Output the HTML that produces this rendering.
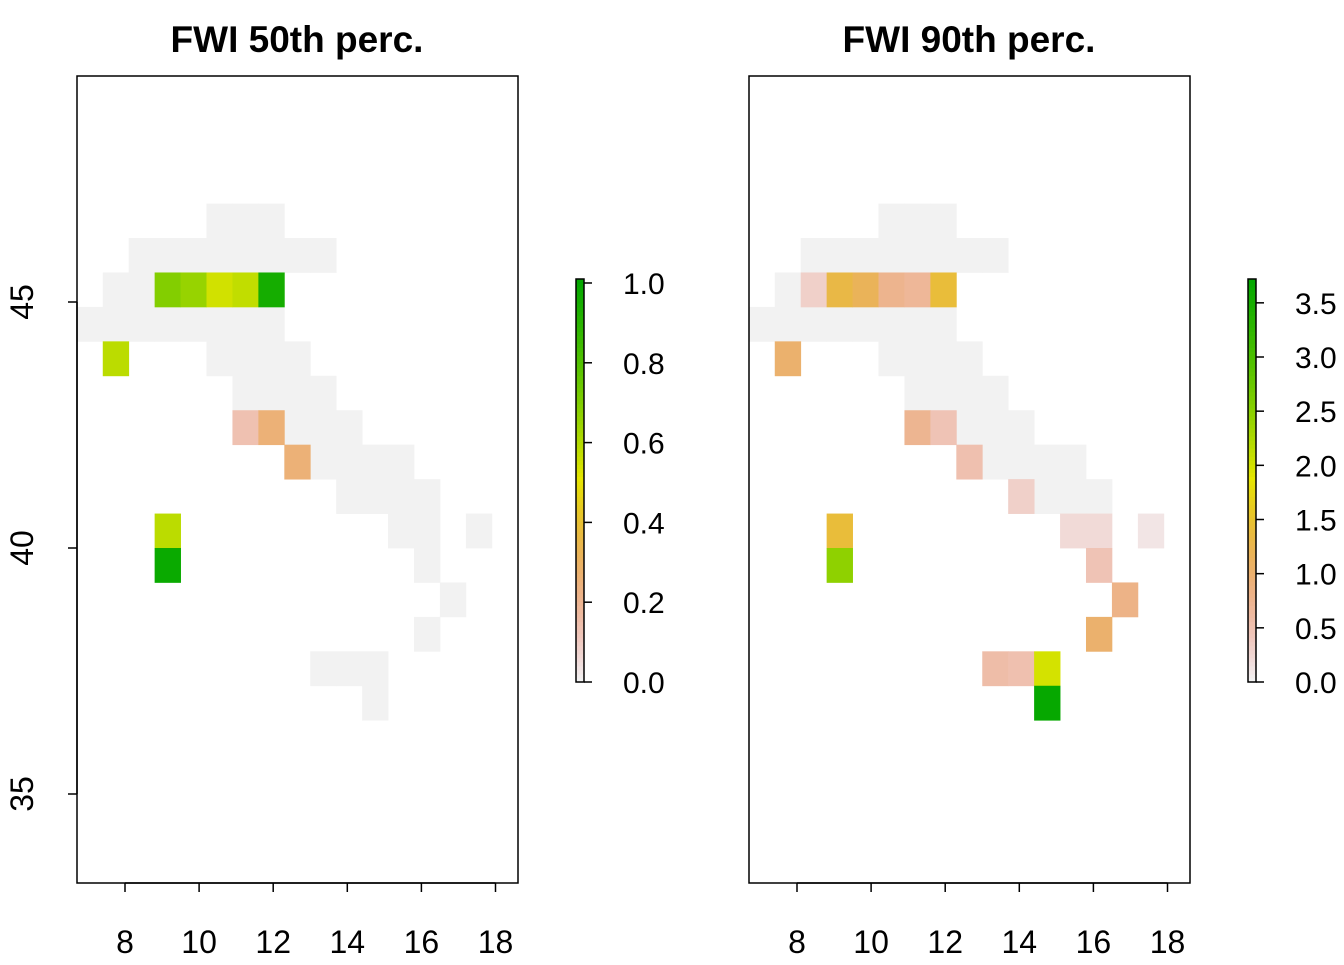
<!DOCTYPE html>
<html><head><meta charset="utf-8"><style>
body{margin:0;background:#fff}
svg text{font-family:"Liberation Sans",sans-serif;fill:#000}
</style></head><body>
<svg id="chart" width="1344" height="960" viewBox="0 0 1344 960" xmlns="http://www.w3.org/2000/svg"></svg>
<script>
// grid cells: [col,row] with lon = 6.7+0.7*col, lat top = 47-0.7*row
const grayCells = [[5,0],[6,0],[7,0],[2,1],[3,1],[4,1],[5,1],[6,1],[7,1],[8,1],[9,1],[1,2],[2,2],
 [0,3],[1,3],[2,3],[3,3],[4,3],[5,3],[6,3],[7,3],[5,4],[6,4],[7,4],[8,4],[6,5],[7,5],[8,5],[9,5],
 [8,6],[9,6],[10,6],[9,7],[10,7],[11,7],[12,7],[11,8],[12,8],[13,8]];
const grayLeftOnly = [[12,9],[13,9],[15,9],[13,10],[14,11],[13,12],[9,13],[10,13],[11,13],[11,14],[10,8]];
const leftCells = [[3,2],[4,2],[5,2],[6,2],[7,2],[1,4],[6,6],[7,6],[8,7],[3,9],[3,10]];
const leftValues = [0.69,0.65,0.54,0.57,0.95,0.58,0.13,0.25,0.25,0.58,0.98];
const rightCells = [[2,2],[3,2],[4,2],[5,2],[6,2],[7,2],[1,4],[6,6],[7,6],[8,7],[10,8],[12,9],[13,9],[15,9],[3,9],[13,10],[3,10],[14,11],[13,12],[9,13],[10,13],[11,13],[11,14]];
const rightValues = [0.3,1.3,1.15,0.75,0.67,1.4,1.0,0.72,0.45,0.5,0.3,0.2,0.2,0.1,1.4,0.45,2.45,0.8,1.0,0.55,0.5,1.97,3.65];
const leftMax = 1.01, rightMax = 3.72;
const leftTicks = [0.0,0.2,0.4,0.6,0.8,1.0];
const rightTicks = [0.0,0.5,1.0,1.5,2.0,2.5,3.0,3.5];
const xTicks = [8,10,12,14,16,18];
const yTicks = [35,40,45];

const NS="http://www.w3.org/2000/svg";
const svg=document.getElementById('chart');
function mk(t,a,p){const e=document.createElementNS(NS,t);for(const k in a)e.setAttribute(k,a[k]);(p||svg).appendChild(e);return e;}
function terrain(t){t=Math.max(0,Math.min(1,t));let h,s,v;
 if(t>=0.5){const u=(t-0.5)/0.5;h=60+60*u;s=1;v=0.9-0.25*u;}else{const u=t/0.5;h=60*u;s=u;v=0.95-0.05*u;}
 const c=v*s,x=c*(1-Math.abs((h/60)%2-1)),m=v-c;let r,g,b;
 if(h<60){r=c;g=x;b=0}else{r=x;g=c;b=0}
 return `rgb(${Math.round((r+m)*255)},${Math.round((g+m)*255)},${Math.round((b+m)*255)})`;}
function xs(off){return lon=>off+125+(lon-8)*37.05;}
const ys=lat=>302-(lat-45)*49.2;

function panel(off,cells,vals,max,grayExtra,ticks,cbx,title,showY){
 const X=xs(off);
 const g=mk('g',{});
 
 
 const draw=(c,fill)=>{const lon0=6.7+0.7*c[0],lat0=47-0.7*c[1];
  const r=mk('rect',{x:X(lon0),y:ys(lat0),width:X(lon0+0.7)-X(lon0)+0.4,height:ys(lat0-0.7)-ys(lat0)+0.4,fill:fill},g);
  
  };
 grayCells.concat(grayExtra).forEach(c=>draw(c,terrain(0)));
 cells.forEach((c,i)=>draw(c,terrain(vals[i]/max)));
 mk('rect',{x:77+off,y:76,width:441,height:807,fill:'none',stroke:'#000','stroke-width':1.5},g);
 const t=mk('text',{x:297+off,y:52,'text-anchor':'middle','font-size':37,'font-weight':'bold'},g);t.textContent=title;
 
 mk('line',{x1:X(8),x2:X(18),y1:883,y2:883,stroke:'#000','stroke-width':1.5},g);
 xTicks.forEach(v=>{mk('line',{x1:X(v),x2:X(v),y1:883,y2:892,stroke:'#000','stroke-width':1.5},g);
  const l=mk('text',{x:X(v),y:953,'text-anchor':'middle','font-size':32},g);l.textContent=v;
  });
 if(showY){mk('line',{x1:77,x2:77,y1:ys(35),y2:ys(45),stroke:'#000','stroke-width':1.5},g);
  yTicks.forEach(v=>{mk('line',{x1:68,x2:77,y1:ys(v),y2:ys(v),stroke:'#000','stroke-width':1.5},g);
   const l=mk('text',{x:33,y:ys(v),'text-anchor':'middle','font-size':32,transform:`rotate(-90 33 ${ys(v)})`},g);l.textContent=v;
   });}
 const cy=v=>682-(v/max)*(682-279);
 const cb=mk('g',{},g);
 
 for(let i=0;i<100;i++){const v0=max*i/100,v1=max*(i+1)/100;
  mk('rect',{x:cbx,y:cy(v1),width:8,height:cy(v0)-cy(v1)+0.5,fill:terrain(v0/max)},cb);}
 mk('rect',{x:cbx,y:279,width:8,height:403,fill:'none',stroke:'#000','stroke-width':1.5},cb);
 ticks.forEach(v=>{mk('line',{x1:cbx+8,x2:cbx+16,y1:cy(v),y2:cy(v),stroke:'#000','stroke-width':1.5},cb);
  const l=mk('text',{x:cbx+47,y:cy(v)+11,'font-size':30},cb);l.textContent=v.toFixed(1);
  });
}
panel(0,leftCells,leftValues,leftMax,grayLeftOnly,leftTicks,576,'FWI 50th perc.',true);
panel(672,rightCells,rightValues,rightMax,[],rightTicks,1248,'FWI 90th perc.',false);
</script>
</body></html>
